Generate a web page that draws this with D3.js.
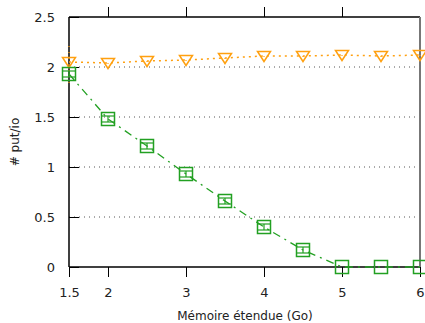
<!DOCTYPE html>
<html>
<head>
<meta charset="utf-8">
<script src="https://cdn.jsdelivr.net/npm/d3@7"></script>
<style>
  html, body { margin: 0; padding: 0; background: #fff; }
  svg { display: block; font-family: "DejaVu Sans", sans-serif; }
</style>
</head>
<body>
<svg id="chart" width="425" height="323"></svg>
<script>
// Extended memory sizes (Go)
const memoire = [1.5, 2, 2.5, 3, 3.5, 4, 4.5, 5, 5.5, 6];
// put/io ratio, series 1 (orange triangles)
const serieA = [2.05, 2.04, 2.06, 2.07, 2.09, 2.11, 2.11, 2.12, 2.11, 2.12];
const serieAErr = [0.21, 0.01, 0.01, 0.01, 0.01, 0.01, 0.01, 0.01, 0.01, 0.01];
// put/io ratio, series 2 (green squares)
const serieB = [1.93, 1.48, 1.21, 0.93, 0.66, 0.40, 0.17, 0, 0, 0];
const serieBErr = [0.03, 0.03, 0.03, 0.03, 0.03, 0.03, 0.03, 0, 0, 0];
const xTicks = [1.5, 2, 3, 4, 5, 6];
const yTicks = [0, 0.5, 1, 1.5, 2, 2.5];

const svg = d3.select("#chart");
const m = { left: 69, right: 420, top: 17, bottom: 267 };
const x = d3.scaleLinear().domain([1.5, 6]).range([m.left, m.right]);
const y = d3.scaleLinear().domain([0, 2.5]).range([m.bottom, m.top]);

const orange = "#ffa010";
const green = "#22a022";

// dotted horizontal grid
svg.append("g").selectAll("line").data(yTicks.filter(d => d > 0 && d < 2.5)).join("line")
  .attr("x1", m.left).attr("x2", m.right)
  .attr("y1", d => y(d)).attr("y2", d => y(d))
  .attr("stroke", "#555").attr("stroke-width", 1)
  .attr("stroke-dasharray", "1,4");

// axes
const xAxis = d3.axisBottom(x).tickValues(xTicks).tickSize(10).tickPadding(11)
  .tickFormat(d => String(d));
const gx = svg.append("g").attr("transform", `translate(0,${m.bottom})`).call(xAxis);
gx.select(".domain").remove();
gx.selectAll("text").attr("font-size", 13).attr("fill", "#222").attr("font-family", "DejaVu Sans");

const xTop = d3.axisTop(x).tickValues(xTicks.filter(d => d > 1.5 && d < 6)).tickSize(10).tickFormat("");
const gxt = svg.append("g").attr("transform", `translate(0,${m.top})`).call(xTop);
gxt.select(".domain").remove();

const yAxis = d3.axisLeft(y).tickValues(yTicks).tickSize(-10).tickPadding(14)
  .tickFormat(d => String(d));
const gy = svg.append("g").attr("transform", `translate(${m.left},0)`).call(yAxis);
gy.select(".domain").remove();
gy.selectAll("text").attr("font-size", 13).attr("fill", "#222").attr("font-family", "DejaVu Sans");

// frame
svg.append("line").attr("x1", m.left).attr("x2", m.right).attr("y1", m.top).attr("y2", m.top)
  .attr("stroke", "#000").attr("stroke-width", 1.5);
svg.append("line").attr("x1", m.left).attr("x2", m.right).attr("y1", m.bottom).attr("y2", m.bottom)
  .attr("stroke", "#000").attr("stroke-width", 1.5);
svg.append("line").attr("x1", m.left).attr("x2", m.left).attr("y1", m.top).attr("y2", m.bottom)
  .attr("stroke", "#000").attr("stroke-width", 1.5);
svg.append("line").attr("x1", m.right).attr("x2", m.right).attr("y1", m.top).attr("y2", m.bottom)
  .attr("stroke", "#777").attr("stroke-width", 2);

// series 1: dotted line with down triangles
const lineGen = d3.line().x(d => x(d[0])).y(d => y(d[1]));
const dataA = memoire.map((m0, i) => [m0, serieA[i], serieAErr[i]]);
const dataB = memoire.map((m0, i) => [m0, serieB[i], serieBErr[i]]);

svg.append("path").datum(dataA).attr("d", lineGen)
  .attr("fill", "none").attr("stroke", orange).attr("stroke-width", 1.5)
  .attr("stroke-dasharray", "2,4");
svg.append("g").selectAll("line").data(dataA).join("line")
  .attr("x1", d => x(d[0])).attr("x2", d => x(d[0]))
  .attr("y1", d => y(d[1] - d[2])).attr("y2", d => y(d[1] + d[2]))
  .attr("stroke", orange).attr("stroke-width", 1.2).attr("stroke-dasharray", "1,5");
svg.append("g").selectAll("path").data(dataA).join("path")
  .attr("transform", d => `translate(${x(d[0])},${y(d[1])})`)
  .attr("d", "M-6.5,-4.5 L6.5,-4.5 L0,5.5 Z")
  .attr("fill", "none").attr("stroke", orange).attr("stroke-width", 1.5);

// series 2: dash-dot line with squares and error bars
svg.append("path").datum(dataB).attr("d", lineGen)
  .attr("fill", "none").attr("stroke", green).attr("stroke-width", 1.3)
  .attr("stroke-dasharray", "8,5,2,5");
const eb = svg.append("g").selectAll("g").data(dataB.filter(d => d[2] > 0)).join("g")
  .attr("transform", d => `translate(${x(d[0])},0)`);
eb.append("line").attr("x1", 0).attr("x2", 0)
  .attr("y1", d => y(d[1] - d[2])).attr("y2", d => y(d[1] + d[2]))
  .attr("stroke", green).attr("stroke-width", 1.2);
eb.append("line").attr("x1", -6).attr("x2", 6)
  .attr("y1", d => y(d[1] - d[2])).attr("y2", d => y(d[1] - d[2]))
  .attr("stroke", green).attr("stroke-width", 1.2);
eb.append("line").attr("x1", -6).attr("x2", 6)
  .attr("y1", d => y(d[1] + d[2])).attr("y2", d => y(d[1] + d[2]))
  .attr("stroke", green).attr("stroke-width", 1.2);
svg.append("g").selectAll("rect").data(dataB).join("rect")
  .attr("x", d => x(d[0]) - 6.5).attr("y", d => y(d[1]) - 6.5)
  .attr("width", 13).attr("height", 13)
  .attr("fill", "none").attr("stroke", green).attr("stroke-width", 1.5);

// axis titles
svg.append("text").attr("x", 245).attr("y", 320).attr("text-anchor", "middle")
  .attr("font-size", 12).attr("fill", "#222").text("Mémoire étendue (Go)");
svg.append("text").attr("transform", "translate(19,142) rotate(-90)")
  .attr("text-anchor", "middle").attr("font-size", 12).attr("fill", "#222").text("# put/io");
</script>
</body>
</html>
